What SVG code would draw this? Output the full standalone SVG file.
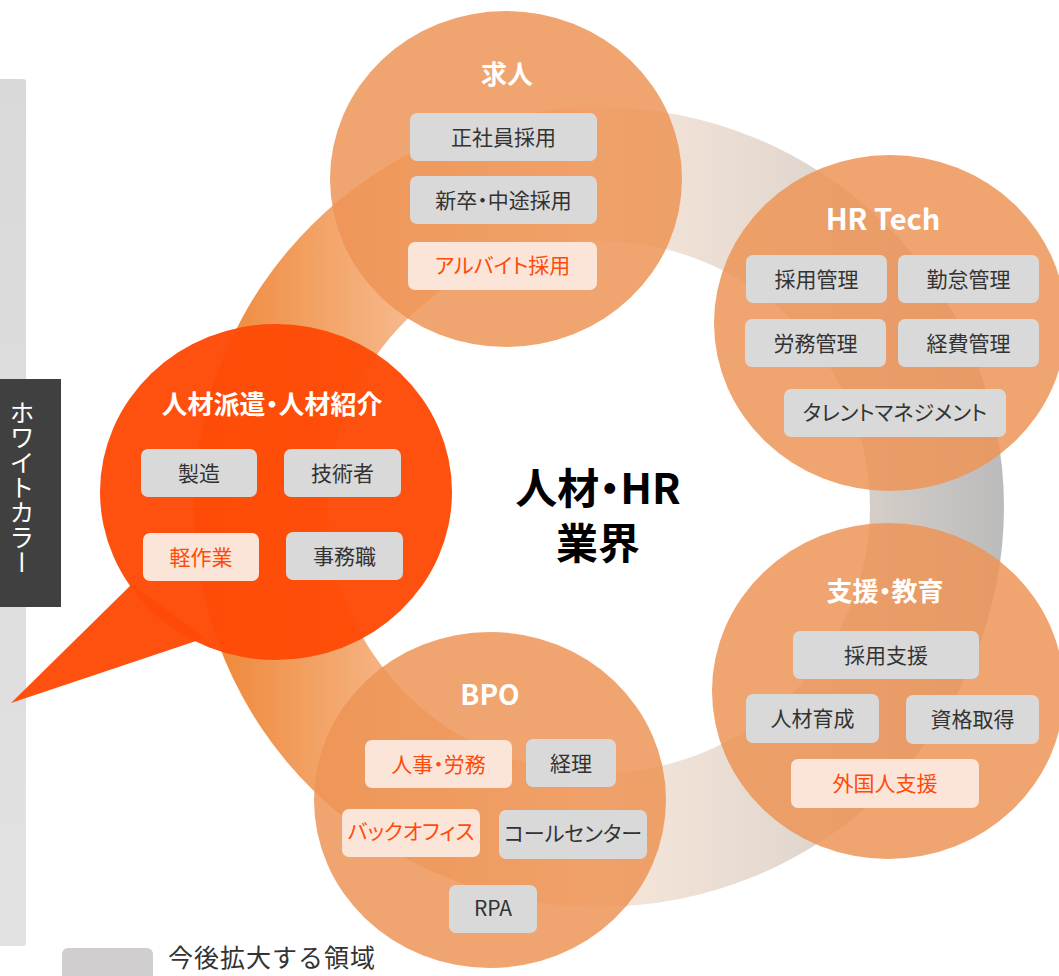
<svg xmlns="http://www.w3.org/2000/svg" width="1059" height="976" viewBox="0 0 1059 976">
<defs>
<linearGradient id="gL" gradientUnits="userSpaceOnUse" x1="194" y1="0" x2="599" y2="0">
<stop offset="0" stop-color="#ee8330"/>
<stop offset="0.45" stop-color="#f5b17f"/>
<stop offset="1" stop-color="#fbe6d8"/>
</linearGradient>
<linearGradient id="gR" gradientUnits="userSpaceOnUse" x1="599" y1="0" x2="1005" y2="0">
<stop offset="0" stop-color="#f8e7da"/>
<stop offset="0.5" stop-color="#e2d7cf"/>
<stop offset="1" stop-color="#bbbbbb"/>
</linearGradient>
<linearGradient id="gBar" x1="0" y1="0" x2="0" y2="1">
<stop offset="0" stop-color="#d9d9d9"/>
<stop offset="1" stop-color="#e2e2e2"/>
</linearGradient>
</defs>
<style>
text{font-family:"Noto Sans CJK JP","Noto Sans",sans-serif;font-feature-settings:"palt";}
.c{fill:#ed9456;fill-opacity:0.85;}
.r{fill:#fe4a06;fill-opacity:0.96;}
.t{fill:#ffffff;font-weight:bold;text-anchor:middle;}
.b{fill:#d9d9d9;}
.h{fill:#fbe5d8;}
.bt{fill:#333333;font-size:21px;text-anchor:middle;}
.ht{fill:#ff4b0a;font-size:21px;text-anchor:middle;}
</style>
<g id="side">
<rect x="-5" y="79" width="31" height="867" rx="3" fill="url(#gBar)"/>
<rect x="0" y="379" width="61" height="228" fill="#404040"/>
<text x="22" y="400" font-size="25" fill="#ffffff" style="writing-mode:vertical-rl;font-feature-settings:normal" text-anchor="start">ホワイトカラー</text>
</g>
<g id="connectors">
<path d="M 599 107 A 405 400 0 0 0 599 907 L 599 773 A 271 266 0 0 1 599 241 Z" fill="url(#gL)"/>
<path d="M 599 107 A 405 400 0 0 1 599 907 L 599 773 A 271 266 0 0 0 599 241 Z" fill="url(#gR)"/>
</g>
<g id="center">
<text x="598" y="504" font-size="42" font-weight="bold" text-anchor="middle" fill="#000">人材・HR</text>
<text x="598" y="559" font-size="42" font-weight="bold" text-anchor="middle" fill="#000">業界</text>
</g>
<g id="kyujin">
<ellipse class="c" cx="506" cy="179" rx="176" ry="168"/>
<text class="t" x="507" y="84" font-size="26">求人</text>
<rect class="b" x="410" y="113" width="187" height="48" rx="7"/>
<text class="bt" x="503.5" y="144.5">正社員採用</text>
<rect class="b" x="410" y="176" width="187" height="48" rx="7"/>
<text class="bt" x="503.5" y="207.5">新卒・中途採用</text>
<rect class="h" x="408" y="242" width="189" height="48" rx="7"/>
<text class="ht" x="502.5" y="273" font-size="20">アルバイト採用</text>
</g>
<g id="hrtech">
<ellipse class="c" cx="890" cy="323" rx="176" ry="168"/>
<text class="t" x="883" y="230" font-size="29">HR Tech</text>
<rect class="b" x="746" y="255" width="141" height="48" rx="7"/>
<text class="bt" x="816.5" y="286.5">採用管理</text>
<rect class="b" x="898" y="255" width="141" height="48" rx="7"/>
<text class="bt" x="968.5" y="286.5">勤怠管理</text>
<rect class="b" x="745" y="319" width="141" height="48" rx="7"/>
<text class="bt" x="815.5" y="350.5">労務管理</text>
<rect class="b" x="898" y="319" width="141" height="48" rx="7"/>
<text class="bt" x="968.5" y="350.5">経費管理</text>
<rect class="b" x="784" y="389" width="222" height="48" rx="7"/>
<text class="bt" x="895" y="420" font-size="19">タレントマネジメント</text>
</g>
<g id="shien">
<ellipse class="c" cx="888" cy="691" rx="176" ry="168"/>
<text class="t" x="885" y="601" font-size="26">支援・教育</text>
<rect class="b" x="793" y="631" width="186" height="48" rx="7"/>
<text class="bt" x="886" y="662.5">採用支援</text>
<rect class="b" x="746" y="694" width="133" height="49" rx="7"/>
<text class="bt" x="812.5" y="726">人材育成</text>
<rect class="b" x="906" y="695" width="133" height="49" rx="7"/>
<text class="bt" x="972.5" y="727">資格取得</text>
<rect class="h" x="791" y="759" width="188" height="49" rx="7"/>
<text class="ht" x="885" y="791">外国人支援</text>
</g>
<g id="bpo">
<ellipse class="c" cx="490" cy="800" rx="176" ry="168"/>
<text class="t" x="490" y="705" font-size="28">BPO</text>
<rect class="h" x="365" y="740" width="147" height="48" rx="7"/>
<text class="ht" x="438.5" y="771.5">人事・労務</text>
<rect class="b" x="526" y="739" width="90" height="48" rx="7"/>
<text class="bt" x="571" y="770.5">経理</text>
<rect class="h" x="342" y="809" width="138" height="48" rx="7"/>
<text class="ht" x="411" y="839" font-size="16">バックオフィス</text>
<rect class="b" x="499" y="810" width="148" height="49" rx="7"/>
<text class="bt" x="573" y="840.5" font-size="17">コールセンター</text>
<rect class="b" x="449" y="885" width="88" height="48" rx="7"/>
<text class="bt" x="493" y="916">RPA</text>
</g>
<g id="haken">
<path class="r" d="M 132 584 L 11 703 L 205 638 Z"/>
<ellipse class="r" cx="276" cy="492" rx="176" ry="168"/>
<text class="t" x="272" y="414" font-size="26">人材派遣・人材紹介</text>
<rect class="b" x="141" y="449" width="116" height="48" rx="7"/>
<text class="bt" x="199" y="480.5">製造</text>
<rect class="b" x="284" y="449" width="117" height="48" rx="7"/>
<text class="bt" x="342.5" y="480.5">技術者</text>
<rect class="h" x="143" y="533" width="116" height="48" rx="7"/>
<text class="ht" x="201" y="564.5">軽作業</text>
<rect class="b" x="286" y="532" width="117" height="48" rx="7"/>
<text class="bt" x="344.5" y="563.5">事務職</text>
</g>
<g id="legend">
<rect x="62" y="948" width="91" height="40" rx="6" fill="#d0cecf"/>
<text x="168" y="967" font-size="25" fill="#333333" style="font-feature-settings:normal" letter-spacing="1">今後拡大する領域</text>
</g>
</svg>
